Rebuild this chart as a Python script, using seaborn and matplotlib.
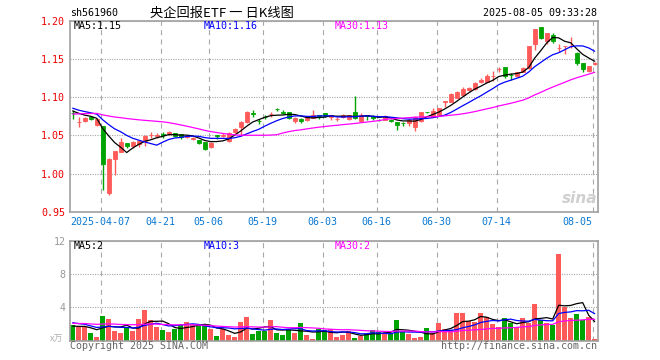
import numpy as np
import pandas as pd
import matplotlib
matplotlib.use('Agg')
import matplotlib.pyplot as plt
import seaborn as sns

# 央企回报ETF (sh561960) 日K, 88 个交易日
open_ = [1.080, 1.067, 1.0687, 1.0748, 1.064, 1.062, 0.974, 1.0195, 1.0287, 1.0395,
         1.0365, 1.039, 1.043, 1.050, 1.0495, 1.0515, 1.0517, 1.0526, 1.052, 1.0474,
         1.0457, 1.0443, 1.0408, 1.035, 1.050, 1.049, 1.0425, 1.054, 1.061, 1.067,
         1.079, 1.0695, 1.0745, 1.0776, 1.0845, 1.0805, 1.081, 1.0683, 1.0713, 1.0696,
         1.0726, 1.0769, 1.079, 1.0739, 1.0713, 1.0739, 1.0713, 1.0809, 1.0683, 1.0765,
         1.0756, 1.0706, 1.0704, 1.070, 1.0678, 1.0663, 1.066, 1.0604, 1.0683, 1.081,
         1.0748, 1.077, 1.094, 1.0943, 1.0996, 1.103, 1.1096, 1.1104, 1.1196, 1.1204,
         1.128, 1.137, 1.1393, 1.1295, 1.128, 1.1337, 1.138, 1.170, 1.1918, 1.1743,
         1.1813, 1.164, 1.1672, 1.1672, 1.1577, 1.1446, 1.135, 1.1437]
high = [1.0835, 1.0748, 1.0748, 1.076, 1.073, 1.063, 1.020, 1.030, 1.046, 1.040,
        1.043, 1.0435, 1.0505, 1.054, 1.053, 1.0545, 1.0556, 1.0535, 1.0525, 1.050,
        1.048, 1.0445, 1.041, 1.041, 1.0502, 1.053, 1.0548, 1.0595, 1.0685, 1.0815,
        1.0835, 1.071, 1.077, 1.0813, 1.0856, 1.0835, 1.0813, 1.0735, 1.0726, 1.0756,
        1.0835, 1.077, 1.0795, 1.077, 1.0739, 1.078, 1.077, 1.1017, 1.079, 1.077,
        1.077, 1.0715, 1.077, 1.0713, 1.068, 1.068, 1.0726, 1.0752, 1.0805, 1.0813,
        1.0856, 1.086, 1.0957, 1.105, 1.1083, 1.114, 1.114, 1.1204, 1.1248, 1.130,
        1.1344, 1.140, 1.1395, 1.1322, 1.1337, 1.1402, 1.1675, 1.190, 1.1927, 1.1845,
        1.184, 1.170, 1.1675, 1.1787, 1.159, 1.145, 1.1415, 1.1457]
low = [1.072, 1.0604, 1.0678, 1.0704, 1.063, 0.978, 0.972, 0.9987, 1.0278, 1.033,
       1.034, 1.0343, 1.0365, 1.0465, 1.0465, 1.047, 1.051, 1.048, 1.045, 1.0465,
       1.0443, 1.039, 1.0315, 1.0335, 1.0455, 1.048, 1.0417, 1.053, 1.0496, 1.066,
       1.0748, 1.0648, 1.071, 1.0748, 1.0826, 1.078, 1.071, 1.066, 1.066, 1.0683,
       1.0722, 1.0713, 1.0735, 1.0696, 1.0683, 1.0726, 1.0704, 1.0713, 1.067, 1.0704,
       1.0704, 1.0685, 1.070, 1.067, 1.0574, 1.063, 1.0617, 1.0552, 1.067, 1.079,
       1.074, 1.0765, 1.0878, 1.094, 1.0987, 1.102, 1.1083, 1.1096, 1.1183, 1.1196,
       1.1213, 1.1337, 1.125, 1.122, 1.1272, 1.1328, 1.137, 1.1621, 1.176, 1.170,
       1.1717, 1.160, 1.1565, 1.1643, 1.1424, 1.1337, 1.1337, 1.1424]
close = [1.079, 1.068, 1.073, 1.0713, 1.071, 1.012, 1.0195, 1.029, 1.0408, 1.0365,
         1.0417, 1.043, 1.0495, 1.0505, 1.050, 1.051, 1.0543, 1.0491, 1.048, 1.0495,
         1.0461, 1.0405, 1.0328, 1.0405, 1.0498, 1.0505, 1.053, 1.0588, 1.067, 1.081,
         1.078, 1.0685, 1.074, 1.078, 1.0840, 1.0795, 1.0726, 1.073, 1.0683, 1.0739,
         1.0769, 1.0757, 1.075, 1.0769, 1.0715, 1.0769, 1.0769, 1.0726, 1.0769, 1.076,
         1.0726, 1.0704, 1.0756, 1.0695, 1.0635, 1.066, 1.0704, 1.0739, 1.0804, 1.0804,
         1.0822, 1.0856, 1.0945, 1.1039, 1.107, 1.1109, 1.1126, 1.1191, 1.1226, 1.1283,
         1.1285, 1.1375, 1.128, 1.129, 1.1328, 1.138, 1.1673, 1.1896, 1.1774, 1.1839,
         1.174, 1.1645, 1.1673, 1.1675, 1.1446, 1.1372, 1.1411, 1.1455]
# 成交量 (万)
volume = [1.88, 1.68, 1.6, 0.96, 0.48, 3.0, 2.64, 1.16, 0.96, 1.6,
          1.2, 2.64, 3.68, 2.48, 1.64, 1.32, 1.04, 1.44, 1.88, 2.24,
          1.88, 1.92, 1.92, 1.36, 0.56, 1.36, 0.68, 0.44, 2.24, 2.84,
          0.8, 1.16, 1.2, 2.48, 0.88, 0.68, 1.28, 0.92, 2.12, 0.68,
          0.2, 1.4, 1.32, 1.4, 0.44, 0.68, 1.2, 0.32, 0.6, 0.8,
          1.28, 1.08, 0.96, 0.96, 2.48, 1.08, 0.8, 0.32, 0.44, 1.52,
          0.96, 2.12, 1.4, 1.32, 3.32, 3.32, 2.36, 2.24, 3.32, 2.84,
          2.0, 1.64, 2.72, 2.12, 1.68, 2.72, 2.12, 4.4, 2.48, 2.12,
          1.88, 10.4, 4.04, 2.72, 3.2, 2.48, 2.84, 0.2]

# 图左边界之前的收盘价和成交量, 只用于计算均线 (按均线起点估计)
prior_close = [1.060, 1.063, 1.066, 1.068, 1.068, 1.066, 1.068, 1.067, 1.069, 1.068,
               1.068, 1.070, 1.069, 1.071, 1.071, 1.085, 1.092, 1.096, 1.098, 1.099,
               1.094, 1.091, 1.088, 1.087, 1.087, 1.083, 1.085, 1.079, 1.084]
prior_volume = [2.1, 1.8, 2.4, 2.0, 1.9, 2.2, 1.7, 2.3, 2.0, 1.9,
                2.1, 2.2, 1.8, 2.0, 2.4, 1.9, 2.1, 2.0, 1.9, 2.1,
                2.8, 2.4, 2.9, 2.3, 2.4, 1.9, 1.6, 1.8, 1.62]

tick_pos = [5, 15, 23, 32, 42, 51, 61, 71, 87]
tick_labels = ['2025-04-07', '04-21', '05-06', '05-19', '06-03',
               '06-16', '06-30', '07-14', '08-05']
price_ticks = [0.95, 1.00, 1.05, 1.10, 1.15, 1.20]
volume_ticks = [4, 8, 12]

RED = '#ff5a5a'
GREEN = '#00a400'
GRID = '#a8a8a8'
BORDER = '#a0a0a0'
MA_COLORS = {5: 'black', 10: '#0000ff', 30: '#ff00ff'}
MONO = ['DejaVu Sans Mono', 'Noto Sans CJK SC']
CJK = ['Noto Sans CJK SC', 'DejaVu Sans']


def moving_average(values, prior, n):
    s = pd.Series(list(prior) + list(values))
    return s.rolling(n).mean().iloc[len(prior):].to_numpy()


o, h, l, c = map(np.array, (open_, high, low, close))
idx = np.arange(len(c))
up = c >= o
colors = np.where(up, RED, GREEN)

sns.set_style('white')
plt.rcParams['font.family'] = MONO

W, H = 660, 360
fig = plt.figure(figsize=(W / 100, H / 100), dpi=100)


def box(left, top, right, bottom):
    return [left / W, 1 - bottom / H, (right - left) / W, (bottom - top) / H]


ax = fig.add_axes(box(70, 21, 598, 211.7))
axv = fig.add_axes(box(70, 240.7, 598, 340.7))

# K线
ax.vlines(idx, l, h, colors=colors, lw=1, zorder=2)
ax.bar(idx, np.abs(c - o), bottom=np.minimum(o, c), width=0.72,
       color=colors, edgecolor=colors, linewidth=0.6, zorder=2)
price_ma = {}
for n, col in MA_COLORS.items():
    price_ma[n] = moving_average(c, prior_close, n)
    sns.lineplot(x=idx, y=price_ma[n], color=col, lw=0.9, ax=ax, zorder=3)

# 成交量
axv.bar(idx, volume, width=0.8, color=colors, linewidth=0, zorder=2)
vol_ma = {}
for n, col in MA_COLORS.items():
    vol_ma[n] = moving_average(volume, prior_volume, n)
    sns.lineplot(x=idx, y=vol_ma[n], color=col, lw=0.9, ax=axv, zorder=3)

for a in (ax, axv):
    a.set_xlim(-0.45, 87.55)
    a.set_xticks(np.array(tick_pos) - 0.33)
    a.set_xlabel('')
    a.set_ylabel('')
    a.set_axisbelow(True)
    a.xaxis.grid(True, color=GRID, lw=0.8, ls=(0, (4.5, 3.9)))
    a.yaxis.grid(True, color=GRID, lw=0.8, ls=(0, (1, 1.2)))
    a.tick_params(length=0)
    for sp in a.spines.values():
        sp.set_color(BORDER)
        sp.set_linewidth(1.2)

ax.set_ylim(0.95, 1.20)
ax.set_yticks(price_ticks)
ax.set_yticklabels([f'{t:.2f}' for t in price_ticks], color='#ee0000', fontsize=7.2)
ax.set_xticklabels(tick_labels, color='#0a78d2', fontsize=7.2)
ax.tick_params(axis='x', pad=4)
ax.tick_params(axis='y', pad=3.5)
ax.get_xticklabels()[-1].set_ha('right')
ax.get_xticklabels()[-1].set_x(tick_pos[-1])

axv.set_ylim(0, 12)
axv.set_yticks(volume_ticks)
axv.set_yticklabels([str(t) for t in volume_ticks], color='#999999', fontsize=7.2)
axv.tick_params(axis='y', pad=3)
axv.set_xticklabels([])


def ftext(x, y, s, **kw):
    kw.setdefault('fontsize', 7.2)
    kw.setdefault('va', 'center')
    fig.text(x / W, 1 - y / H, s, **kw)


ftext(70, 13, 'sh561960', color='black')
ftext(222, 13, '央企回报ETF 一 日K线图', ha='center', fontsize=9.5, family=CJK, color='black')
ftext(597, 13, '2025-08-05 09:33:28', ha='right', color='black')

legend_x = {5: 74, 10: 204, 30: 335}
for n, col in MA_COLORS.items():
    ftext(legend_x[n], 26, f'MA{n}:{price_ma[n][-1]:.2f}', color=col)
    ftext(legend_x[n], 246, f'MA{n}:{int(vol_ma[n][-1])}', color=col)

ftext(63, 339, 'x万', ha='right', fontsize=6.5, family=CJK, color='#b0b0b0')
ftext(70, 346, 'Copyright 2025 SINA.COM', color='#666666')
ftext(597, 346, 'http://finance.sina.com.cn', ha='right', color='#666666')
ftext(597, 198, 'sina', ha='right', fontsize=11, style='italic', weight='bold',
      family=['DejaVu Sans'], color='#cfcfcf')

fig.savefig('out.png', dpi=100)
